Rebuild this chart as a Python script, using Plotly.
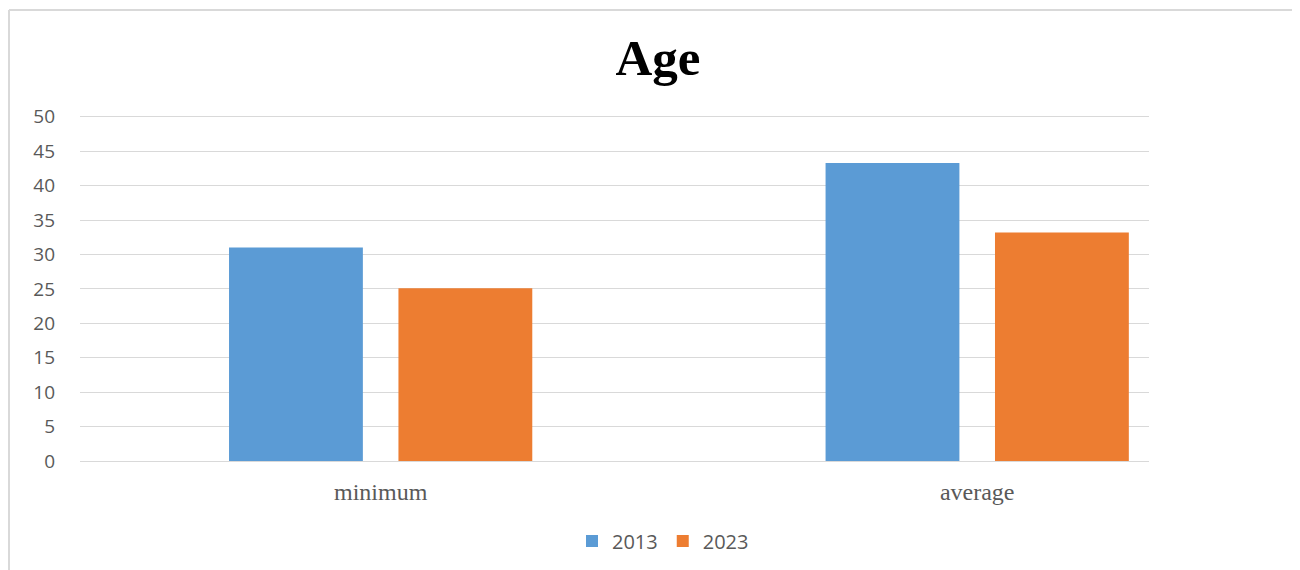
import plotly.graph_objects as go

categories = ["minimum", "average"]
series_names = ["2013", "2023"]
values_2013 = [31, 43.3]
values_2023 = [25.1, 33.2]
y_ticks = [0, 5, 10, 15, 20, 25, 30, 35, 40, 45, 50]
colors = ["#5B9BD5", "#ED7D31"]

OFF = 8  # page body margin offset
W, H = 1300, 570
YMAX = 50.4
PX_PER_UNIT = 344 / 50
L = 80 - OFF
R = W - (1149 - OFF)
B = H - (461 - OFF)
T = H - B - round(YMAX * PX_PER_UNIT)
pw, ph = W - L - R, H - T - B

fig = go.Figure()
for name, vals, col in zip(series_names, [values_2013, values_2023], colors):
    fig.add_trace(go.Bar(x=categories, y=vals, name=name, marker=dict(color=col, line=dict(width=0))))

def px_x(p):
    return (p - OFF - L) / pw

def px_y(p):
    return (H - B - (p - OFF)) / ph

fig.update_layout(
    width=W, height=H,
    margin=dict(l=L, r=R, t=T, b=B),
    paper_bgcolor="white", plot_bgcolor="white",
    barmode="group", bargap=0.432, bargroupgap=0.21,
    title=dict(text="<b>Age</b>", x=(658 - OFF) / W, xref="container", xanchor="center",
               y=1 - (57 - OFF) / H, yref="container", yanchor="middle",
               font=dict(family="Liberation Serif", size=51, color="black")),
    xaxis=dict(type="category", range=[-0.504, 1.288], showgrid=False, showline=False,
               ticks="", ticklabelstandoff=14,
               tickfont=dict(family="Liberation Serif", size=24, color="#595959")),
    yaxis=dict(range=[0, YMAX], tickvals=y_ticks, showgrid=True, gridcolor="#d9d9d9", gridwidth=1,
               zeroline=True, zerolinecolor="#d9d9d9", zerolinewidth=1, showline=False,
               ticks="", ticklabelstandoff=24,
               tickfont=dict(family="Open Sans", size=19, color="#595959")),
    showlegend=True,
    legend=dict(orientation="h", x=px_x(663), xanchor="center", y=px_y(541), yanchor="middle",
                font=dict(family="Open Sans", size=20, color="#595959"),
                itemwidth=30, traceorder="normal"),
    shapes=[
        dict(type="line", xref="paper", yref="paper", x0=px_x(9), x1=px_x(1320), y0=px_y(10), y1=px_y(10),
             line=dict(color="#d9d9d9", width=2)),
        dict(type="line", xref="paper", yref="paper", x0=px_x(9), x1=px_x(9), y0=px_y(10), y1=px_y(590),
             line=dict(color="#d9d9d9", width=2)),
    ],
)

fig.write_html("out.html")
